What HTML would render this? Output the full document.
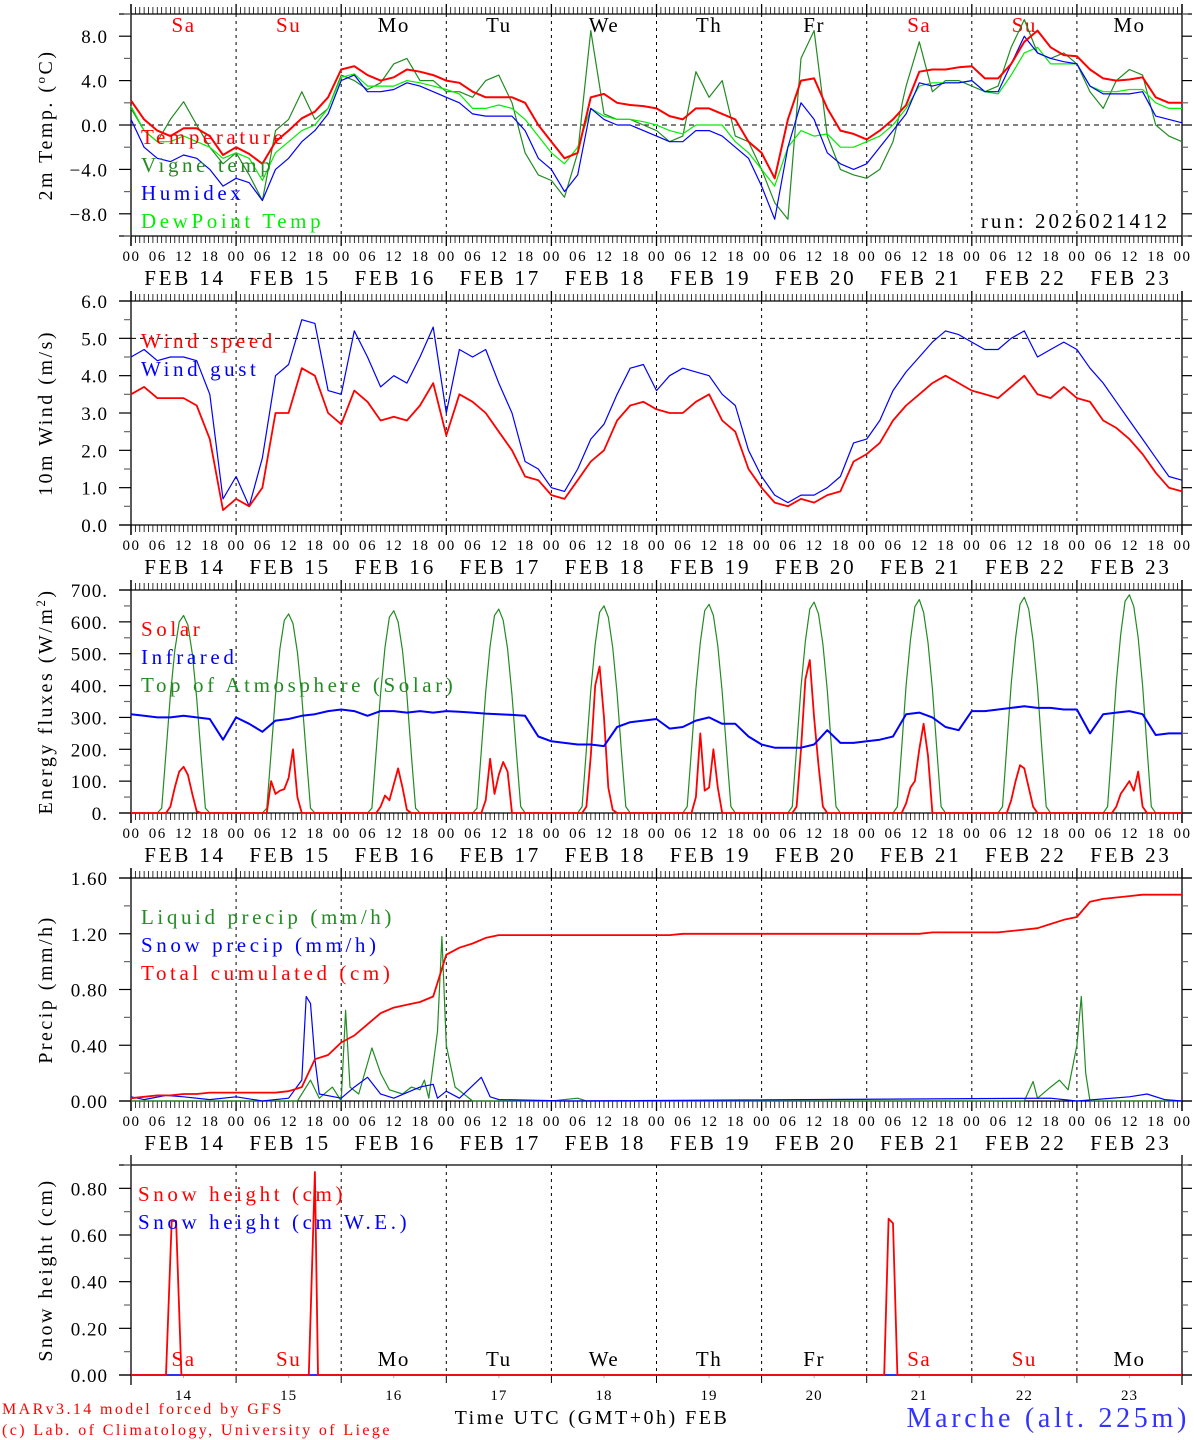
<!DOCTYPE html>
<html><head><meta charset="utf-8">
<style>
html,body{margin:0;padding:0;background:#fff;}
svg{display:block;font-family:"Liberation Serif",serif;}
</style></head>
<body>
<svg id="chart" width="1194" height="1440" viewBox="0 0 1194 1440" xmlns="http://www.w3.org/2000/svg"></svg>
<script>
// ---------- DATA (3-hourly, 00 FEB 14 .. 00 FEB 24) ----------
const dayNames = ["Sa","Su","Mo","Tu","We","Th","Fr","Sa","Su","Mo"];
const dayLabels = ["FEB 14","FEB 15","FEB 16","FEB 17","FEB 18","FEB 19","FEB 20","FEB 21","FEB 22","FEB 23"];
const dayNums = ["14","15","16","17","18","19","20","21","22","23"];
const hourTicks = ["00","06","12","18"];

const temperature = [2.2,0.5,-0.5,-1.0,-0.3,-0.3,-1.0,-2.7, -2.0,-2.6,-3.5,-1.5,-0.5,0.6,1.2,2.5,
 5.0,5.3,4.5,4.0,4.3,5.0,4.8,4.5, 4.0,3.8,3.0,2.5,2.5,2.5,2.0,0.0, -1.5,-3.0,-2.5,2.5,2.8,2.0,1.8,1.7,
 1.5,0.8,0.5,1.5,1.5,1.0,0.5,-1.5, -2.5,-4.8,0.5,4.0,4.2,1.5,-0.5,-0.8, -1.3,-0.5,0.5,1.8,4.8,5.0,5.0,5.2,
 5.3,4.2,4.2,5.5,7.5,8.5,7.0,6.3, 6.2,5.0,4.2,4.0,4.1,4.3,2.5,2.0,2.0];
const vigneTemp = [1.5,-0.5,-1.5,0.5,2.1,0.0,-2.0,-3.5, -2.5,-4.5,-6.8,-0.5,0.5,3.0,0.5,1.5,
 4.5,4.0,3.2,3.8,5.5,6.0,4.0,4.0, 3.0,3.0,2.5,4.0,4.5,2.0,-2.5,-4.5, -5.0,-6.5,-2.5,8.5,1.0,0.5,0.5,0.0,
 -0.5,-1.5,-1.0,4.8,2.5,4.0,-1.0,-1.5, -4.0,-7.0,-8.5,6.0,8.5,-1.0,-4.0,-4.5, -4.8,-4.0,-1.5,3.5,7.5,3.0,4.0,4.0,
 3.5,3.0,3.5,7.0,9.5,6.5,6.0,6.5, 5.5,3.0,1.5,4.0,5.0,4.5,0.0,-1.0,-1.5];
const humidex = [0.5,-2.0,-3.0,-3.3,-2.7,-3.0,-4.0,-5.5, -4.8,-5.2,-6.8,-4.0,-3.0,-1.5,-0.5,1.0,
 4.0,4.5,3.0,3.0,3.2,3.8,3.5,3.0, 2.5,2.0,1.0,0.8,0.8,0.8,-0.5,-3.0, -4.0,-6.0,-4.5,1.5,0.5,0.0,0.0,-0.5,
 -1.0,-1.5,-1.5,-0.5,-0.5,-1.0,-2.0,-3.0, -5.5,-8.5,-2.0,2.0,0.5,-2.5,-3.5,-4.0, -3.5,-2.0,-0.5,1.0,3.8,3.5,3.8,3.8,
 4.0,3.0,3.0,5.5,8.0,6.5,6.0,5.7, 5.5,3.5,2.8,2.8,2.8,3.0,0.8,0.5,0.2];
const dewPoint = [1.7,-0.5,-1.5,-1.5,-1.0,-1.5,-2.0,-3.0, -2.5,-3.0,-5.0,-2.5,-1.5,-0.5,0.0,1.5,
 4.3,4.6,3.5,3.5,3.5,4.0,3.8,3.5, 3.2,2.8,1.5,1.5,1.8,1.5,0.5,-1.0, -2.5,-3.5,-2.0,1.5,0.8,0.5,0.5,0.3,
 0.0,-0.5,-0.8,0.0,0.0,0.0,-1.5,-2.5, -4.0,-5.5,-2.0,-0.5,-1.0,-0.8,-2.0,-2.0, -1.5,-1.0,0.0,1.5,3.5,3.8,3.8,3.8,
 4.0,3.0,2.8,4.5,6.5,7.0,5.5,5.5, 5.5,3.5,3.0,3.0,3.2,3.2,2.0,1.5,1.5];

const windSpeed = [3.5,3.7,3.4,3.4,3.4,3.2,2.3,0.4, 0.7,0.5,1.0,3.0,3.0,4.2,4.0,3.0,
 2.7,3.6,3.3,2.8,2.9,2.8,3.2,3.8, 2.4,3.5,3.3,3.0,2.5,2.0,1.3,1.2, 0.8,0.7,1.2,1.7,2.0,2.8,3.2,3.3,
 3.1,3.0,3.0,3.3,3.5,2.8,2.5,1.5, 1.0,0.6,0.5,0.7,0.6,0.8,0.9,1.7, 1.9,2.2,2.8,3.2,3.5,3.8,4.0,3.8,
 3.6,3.5,3.4,3.7,4.0,3.5,3.4,3.7, 3.4,3.3,2.8,2.6,2.3,1.9,1.4,1.0,0.9];
const windGust = [4.5,4.7,4.4,4.5,4.5,4.4,3.5,0.7, 1.3,0.5,1.8,4.0,4.3,5.5,5.4,3.6,
 3.5,5.2,4.5,3.7,4.0,3.8,4.5,5.3, 3.0,4.7,4.5,4.7,3.8,3.0,1.7,1.5, 1.0,0.9,1.5,2.3,2.7,3.5,4.2,4.3,
 3.6,4.0,4.2,4.1,4.0,3.5,3.2,2.0, 1.3,0.8,0.6,0.8,0.8,1.0,1.3,2.2, 2.3,2.8,3.6,4.1,4.5,4.9,5.2,5.1,
 4.9,4.7,4.7,5.0,5.2,4.5,4.7,4.9, 4.7,4.2,3.8,3.3,2.8,2.3,1.8,1.3,1.2];

const infrared = [310,305,300,300,305,300,295,230, 300,280,255,290,295,305,310,320,
 325,320,305,320,320,315,320,315, 320,318,315,312,310,308,305,240, 225,220,215,215,210,270,285,290,
 295,265,270,290,300,280,280,240, 215,205,205,205,215,260,220,220, 225,230,240,310,315,300,270,260,
 320,320,325,330,335,330,330,325, 325,250,310,315,320,310,245,250,250];
// hourly values from 06h to 18h for each day
const solarByDay = [
 [0,0,0,20,80,130,145,120,60,5,0,0,0],
 [0,0,100,60,70,75,110,200,50,0,0,0,0],
 [0,0,0,20,55,40,90,140,80,10,0,0,0],
 [0,0,0,40,170,60,120,160,130,0,0,0,0],
 [0,0,20,180,400,460,300,80,10,0,0,0,0],
 [0,0,0,50,250,70,80,200,80,0,0,0,0],
 [0,0,20,200,420,480,300,150,20,0,0,0,0],
 [0,0,0,30,80,100,200,280,180,0,0,0,0],
 [0,0,0,40,100,150,140,80,20,0,0,0,0],
 [0,0,0,20,60,80,100,70,130,20,0,0,0]];
const toaByDay = [
 [0,15,190,370,510,600,620,590,500,360,180,15,0],
 [0,15,190,370,515,605,625,595,505,365,185,15,0],
 [0,15,195,375,520,615,635,600,510,370,185,15,0],
 [0,15,195,380,525,620,640,605,515,370,190,20,0],
 [0,20,200,385,530,630,650,615,520,375,190,20,0],
 [0,20,200,390,535,635,655,620,525,380,195,20,0],
 [0,20,205,395,540,640,662,625,530,385,195,20,0],
 [0,20,205,400,545,648,670,630,535,390,200,20,0],
 [0,20,210,405,550,655,677,640,540,395,200,20,0],
 [0,20,210,410,560,665,685,648,550,400,205,20,0]];

const totalCum = [0.02,0.03,0.04,0.04,0.05,0.05,0.06,0.06, 0.06,0.06,0.06,0.06,0.07,0.10,0.30,0.33,
 0.42,0.47,0.55,0.63,0.67,0.69,0.71,0.75, 1.05,1.10,1.13,1.17,1.19,1.19,1.19,1.19, 1.19,1.19,1.19,1.19,1.19,1.19,1.19,1.19,
 1.19,1.19,1.20,1.20,1.20,1.20,1.20,1.20, 1.20,1.20,1.20,1.20,1.20,1.20,1.20,1.20, 1.20,1.20,1.20,1.20,1.20,1.21,1.21,1.21,
 1.21,1.21,1.21,1.22,1.23,1.24,1.27,1.30, 1.32,1.43,1.45,1.46,1.47,1.48,1.48,1.48,1.48];
const liquidHours = [0,38,41,43,46,48,49,50,52,55,57,59,62,64,66,67,68,70,71,72,74,76,78,96,102,104,204,206,207,210,212,214,216,217,218,219,240];
const liquidVals  = [0,0,0.15,0.02,0.10,0.0,0.65,0.10,0.05,0.38,0.20,0.08,0.05,0.10,0.08,0.15,0.02,0.50,1.18,0.40,0.10,0.05,0,0,0.02,0,0,0.14,0.02,0.10,0.15,0.08,0.40,0.75,0.20,0,0];
const snowHours = [0,3,8,12,18,24,30,36,39,40,41,42,43,48,51,54,57,60,66,69,70,72,75,80,82,84,100,210,216,228,232,236,240];
const snowVals  = [0.03,0.01,0.04,0.03,0.01,0.03,0,0.02,0.15,0.75,0.70,0.30,0.05,0.02,0.10,0.17,0.05,0.02,0.10,0.12,0.02,0.07,0.02,0.17,0.03,0.01,0,0.02,0,0.03,0.05,0.01,0];

const snowHtHours = [0,8,9.3,10.3,11.5,40.6,42,42.7,172,173,174,175,240];
const snowHtVals  = [0,0,0.66,0.66,0,0,0.87,0,0,0.67,0.65,0,0];
const snowWEHours = [0,240];
const snowWEVals  = [0,0];

// ---------- DRAWING ----------
const NS = "http://www.w3.org/2000/svg";
const svg = document.getElementById("chart");
const X0 = 131, X1 = 1182;
function xh(h){ return X0 + h/240*(X1-X0); }
function mk(tag, attrs, parent){
  const e = document.createElementNS(NS, tag);
  for (const k in attrs) e.setAttribute(k, attrs[k]);
  (parent||svg).appendChild(e);
  return e;
}
function txt(s, x, y, size, color, anchor, parent, ls){
  const t = mk("text", {x:x, y:y, "font-size":size, fill:color||"#000", "text-anchor":anchor||"start"}, parent);
  if (ls) t.setAttribute("letter-spacing", ls);
  t.textContent = s;
  return t;
}
function makeY(p){ return v => p.bottom - (v - p.ymin)/(p.ymax - p.ymin)*(p.bottom - p.top); }

function drawFrame(p, name){
  const g = mk("g", {});
  
  
  const y = makeY(p);
  mk("line",{x1:119,y1:p.top,x2:1192,y2:p.top,stroke:"#000","stroke-width":1.3},g);
  mk("line",{x1:119,y1:p.bottom,x2:1192,y2:p.bottom,stroke:"#000","stroke-width":1.3},g);
  mk("line",{x1:X0,y1:p.top-10,x2:X0,y2:p.bottom+10,stroke:"#000","stroke-width":1.3},g);
  mk("line",{x1:X1,y1:p.top-10,x2:X1,y2:p.bottom+10,stroke:"#000","stroke-width":1.3},g);
  if (p.hourTicks){
    for (let h=0; h<=240; h++){
      const x = xh(h), big = h%24===0;
      mk("line",{x1:x,y1:p.top,x2:x,y2:p.top-(big?10:7),stroke:"#000","stroke-width":big?1.3:0.8},g);
      mk("line",{x1:x,y1:p.bottom,x2:x,y2:p.bottom+(big?10:7),stroke:"#000","stroke-width":big?1.3:0.8},g);
    }
  } else {
    for (let d=0; d<=10; d++){
      mk("line",{x1:xh(d*24),y1:p.bottom,x2:xh(d*24),y2:p.bottom+8,stroke:"#000","stroke-width":1},g);
      if (d<10) mk("line",{x1:xh(d*24+12),y1:p.bottom,x2:xh(d*24+12),y2:p.bottom+3,stroke:"#aaa","stroke-width":1},g);
    }
  }
  for (let d=1; d<10; d++){
    mk("line",{x1:xh(d*24),y1:p.top,x2:xh(d*24),y2:p.bottom,stroke:"#000","stroke-width":1,"stroke-dasharray":"3,4"},g);
  }
  for (let v=p.ymin, i=0; v<=p.ymax+1e-9; i++, v=p.ymin+i*p.minor){
    const yy = y(v);
    const lab = Math.abs(Math.round(v/p.major)*p.major - v) < 1e-6;
    mk("line",{x1:lab?119:124,y1:yy,x2:X0,y2:yy,stroke:lab?"#000":"#666","stroke-width":1.2},g);
    mk("line",{x1:X1,y1:yy,x2:lab?1192:1188,y2:yy,stroke:lab?"#000":"#666","stroke-width":1.2},g);
    if (lab && v>=p.labMin-1e-9 && v<=p.labMax+1e-9){
      const t = txt(p.fmt(v), 108, yy+7, 19, "#000", "end", g, "1");
      
      
    }
  }
  if (p.dash !== undefined){
    mk("line",{x1:X0,y1:y(p.dash),x2:X1,y2:y(p.dash),stroke:"#000","stroke-width":1,"stroke-dasharray":"5,4"},g);
  }
  const tt = mk("text",{x:0,y:0,"font-size":20,fill:"#000","text-anchor":"middle","letter-spacing":"2.5",transform:`translate(52,${(p.top+p.bottom)/2}) rotate(-90)`},g);
  
  
  if (p.titleHtml){ tt.innerHTML = p.titleHtml; } else { tt.textContent = p.title; }
  if (p.hourTicks){
    const xl = mk("g",{},g);
    
    
    for (let d=0; d<10; d++){
      for (let k=0;k<4;k++) txt(hourTicks[k], xh(d*24+k*6)+0.5, p.bottom+25, 15, "#000", "middle", xl, "1.5");
      txt(dayLabels[d], xh(d*24+12)+1.5, p.bottom+49, 21, "#000", "middle", xl, "2.8");
    }
    txt("00", xh(240)+0.5, p.bottom+25, 15, "#000", "middle", xl, "1.5");
  }
  return y;
}
function series3h(vals, y, color, w, name){
  const pts = vals.map((v,i)=> xh(i*3).toFixed(1)+","+y(v).toFixed(1)).join(" ");
  const pl = mk("polyline",{points:pts,fill:"none",stroke:color,"stroke-width":w,"stroke-linejoin":"round"});
  
  
}
function seriesXY(hours, vals, y, color, w, name){
  const pts = hours.map((h,i)=> xh(h).toFixed(1)+","+y(vals[i]).toFixed(1)).join(" ");
  const pl = mk("polyline",{points:pts,fill:"none",stroke:color,"stroke-width":w,"stroke-linejoin":"round"});
  
  
}
function seriesDaily(byDay, y, color, w, name){
  const hrs = [0], vals = [0];
  byDay.forEach((arr,d)=>arr.forEach((v,k)=>{hrs.push(d*24+6+k); vals.push(v);}));
  hrs.push(240); vals.push(0);
  seriesXY(hrs, vals, y, color, w, name);
}
function legend(items, x, y0, step){
  items.forEach((it,i)=>{
    const t = txt(it[0], x, y0+i*step, 21, it[1], "start", null, "3.6");
    
    
  });
}

// Panel 1: temperature
const p1 = {top:14,bottom:236,ymin:-10,ymax:10,minor:2,major:4,labMin:-8,labMax:8,fmt:v=>(v<0?"\u2212":"")+Math.abs(v).toFixed(1),titleHtml:"2m Temp. (<tspan font-size='13' dy='-7'>o</tspan><tspan dy='7'>C)</tspan>",dash:0,hourTicks:true};
const y1 = drawFrame(p1, "temperature-panel");
dayNames.forEach((n,d)=>{
  const red = (n==="Sa"||n==="Su");
  const t = txt(n, xh(d*24+12), 32, 21, red?"#f00":"#000", "middle", null, "1.5");
  
  
});
series3h(vigneTemp, y1, "#228b22", 1.2, "vigne-temp-line");
series3h(dewPoint, y1, "#00ee00", 1.2, "dewpoint-line");
series3h(humidex, y1, "#0000ff", 1.2, "humidex-line");
series3h(temperature, y1, "#ff0000", 2, "temperature-line");
legend([["Temperature","#f00"],["Vigne temp","#228b22"],["Humidex","#00f"],["DewPoint Temp","#0e0"]], 141, 144, 28);
const run = txt("run: 2026021412", 1170, 228, 21, "#000", "end", null, "3");



// Panel 2: wind
const p2 = {top:301,bottom:525,ymin:0,ymax:6.0,minor:0.5,major:1,labMin:0,labMax:6,fmt:v=>v.toFixed(1),title:"10m Wind (m/s)",dash:5,hourTicks:true};
const y2 = drawFrame(p2, "wind-panel");
series3h(windGust, y2, "#0000ff", 1.2, "wind-gust-line");
series3h(windSpeed, y2, "#ff0000", 1.8, "wind-speed-line");
legend([["Wind speed","#f00"],["Wind gust","#00f"]], 141, 348, 28);

// Panel 3: energy
const p3 = {top:590,bottom:813,ymin:0,ymax:700,minor:50,major:100,labMin:0,labMax:700,fmt:v=>v.toFixed(0)+".",titleHtml:"Energy fluxes (W/m<tspan font-size='13' dy='-7'>2</tspan><tspan dy='7'>)</tspan>",hourTicks:true};
const y3 = drawFrame(p3, "energy-panel");
seriesDaily(toaByDay, y3, "#228b22", 1.2, "toa-solar-line");
seriesDaily(solarByDay, y3, "#ff0000", 1.8, "solar-line");
series3h(infrared, y3, "#0000ff", 2, "infrared-line");
legend([["Solar","#f00"],["Infrared","#00f"],["Top of Atmosphere (Solar)","#228b22"]], 141, 636, 28);

// Panel 4: precip
const p4 = {top:878,bottom:1101,ymin:0,ymax:1.6,minor:0.2,major:0.4,labMin:0,labMax:1.6,fmt:v=>v.toFixed(2),title:"Precip (mm/h)",hourTicks:true};
const y4 = drawFrame(p4, "precip-panel");
seriesXY(liquidHours, liquidVals, y4, "#228b22", 1.2, "liquid-precip-line");
seriesXY(snowHours, snowVals, y4, "#0000ff", 1.2, "snow-precip-line");
series3h(totalCum, y4, "#ff0000", 1.8, "total-cumulated-line");
legend([["Liquid precip (mm/h)","#228b22"],["Snow precip (mm/h)","#00f"],["Total cumulated (cm)","#f00"]], 141, 924, 28);

// Panel 5: snow height
const p5 = {top:1165,bottom:1375,ymin:0,ymax:0.9,minor:0.1,major:0.2,labMin:0,labMax:0.8,fmt:v=>v.toFixed(2),title:"Snow height (cm)",hourTicks:false};
const y5 = drawFrame(p5, "snow-panel");
dayNames.forEach((n,d)=>{
  const red = (n==="Sa"||n==="Su");
  const t = txt(n, xh(d*24+12), 1366, 21, red?"#f00":"#000", "middle", null, "1.5");
  
  
  const dn = txt(dayNums[d], xh(d*24+12), 1400, 15, "#000", "middle", null, "1");
  
  
});
seriesXY(snowWEHours, snowWEVals, y5, "#0000ff", 1.5, "snow-height-we-line");
seriesXY(snowHtHours, snowHtVals, y5, "#ff0000", 1.8, "snow-height-line");
legend([["Snow height (cm)","#f00"],["Snow height (cm W.E.)","#00f"]], 138, 1201, 28);

// footer
const f1 = txt("MARv3.14 model forced by GFS", 2, 1414, 16, "#f00", "start", null, "2.4");


const f2 = txt("(c) Lab. of Climatology, University of Liege", 2, 1435, 16, "#f00", "start", null, "2.4");


const xt = txt("Time UTC (GMT+0h) FEB", 592, 1424, 20, "#000", "middle", null, "2.5");


const st = txt("Marche (alt. 225m)", 1190, 1427, 28, "#3333ff", "end", null, "3.7");


</script>
</body></html>
